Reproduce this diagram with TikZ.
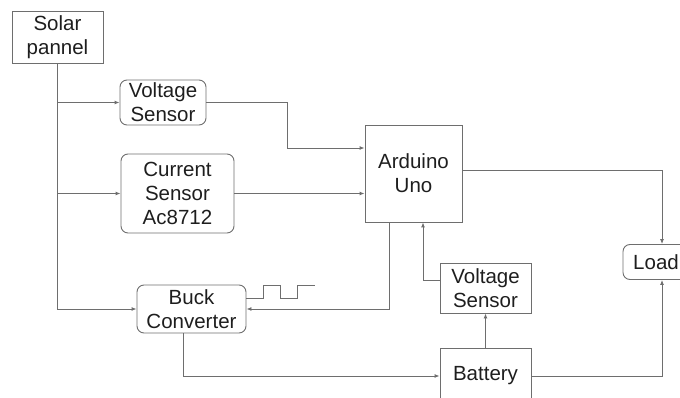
\documentclass[tikz,border=0pt]{standalone}
\usepackage{fontspec}
\setmainfont{Liberation Sans}
\usepackage{tikz}
\usetikzlibrary{arrows.meta, positioning, calc}
\definecolor{linegray}{HTML}{6E6E6E}
\definecolor{textdark}{HTML}{1E1E1E}

\begin{document}
\begin{tikzpicture}[
    x=1pt, y=-1pt,
    block/.style={draw=linegray, line width=0.9pt, rectangle, inner sep=0pt, align=center,
        text=textdark, font=\fontsize{20.5}{24}\selectfont},
    soft/.style={block, rounded corners=7pt},
    wire/.style={draw=linegray, line width=0.9pt},
    arrow/.style={wire, -{Latex[length=5pt, width=4pt]}}
]

\useasboundingbox (0,0) rectangle (680,398);
\clip (0,0) rectangle (680,398);

\node[block, minimum width=91pt, minimum height=52pt] (solar) at (57.5,37) {Solar\\pannel};
\node[soft, minimum width=86pt, minimum height=45pt] (vs1) at (163,102.5) {Voltage\\Sensor};
\node[soft, minimum width=113pt, minimum height=79pt] (cs) at (177.5,193.5) {Current\\Sensor\\Ac8712};
\node[soft, minimum width=109pt, minimum height=48pt] (buck) at (191.5,309) {Buck\\Converter};
\node[block, minimum width=97pt, minimum height=97pt] (arduino) at (413.5,173.5) {Arduino\\Uno};
\node[block, minimum width=91pt, minimum height=50pt] (vs2) at (485.5,288) {Voltage\\Sensor};
\node[block, minimum width=91pt, minimum height=56pt] (battery) at (485.5,376) {Battery};
\node[soft, minimum width=66pt, minimum height=35pt] (load) at (656,262) {Load};

\draw[arrow] (solar.south) |- (buck.west);
\draw[arrow] (solar.south |- vs1.west) -- (vs1.west);
\draw[arrow] (solar.south |- cs.west) -- (cs.west);

\draw[arrow] (vs1.east) -- ++(81,0) |- ([yshift=25.5pt]arduino.west);
\draw[arrow] (cs.east) -- (cs.east -| arduino.west);
\draw[arrow] ([xshift=-24.5pt]arduino.south) |- (buck.east);
\draw[arrow] ([yshift=8pt]vs2.west) -| ([xshift=9.5pt]arduino.south);
\draw[arrow] (battery.north) -- (vs2.south);
\draw[arrow] ([xshift=-8.5pt]buck.south) |- (battery.west);
\draw[arrow] (battery.east) -| ([xshift=6pt]load.south);
\draw[arrow] ([yshift=3.5pt]arduino.east) -| ([xshift=6pt]load.north);

\draw[wire] ([yshift=11pt]buck.east) -- ++(17,0) -- ++(0,-13) -- ++(17,0) -- ++(0,13)
    -- ++(17,0) -- ++(0,-13) -- ++(18,0);

\end{tikzpicture}
\end{document}
